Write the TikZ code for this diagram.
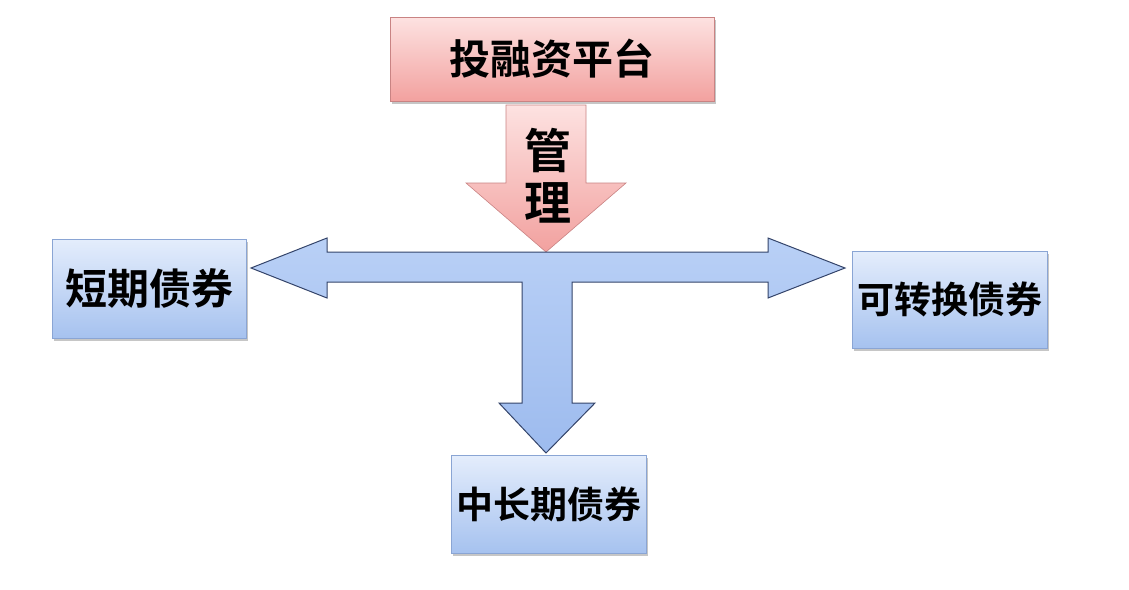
\documentclass[tikz,border=0pt]{standalone}
\usepackage{fontspec}
\newfontfamily\cjk{Noto Sans CJK SC}[BoldFont={Noto Sans CJK SC Bold}]
\usetikzlibrary{shadows}
\definecolor{pinktop}{HTML}{FDE2E1}
\definecolor{pinkbot}{HTML}{F2A19F}
\definecolor{pinkline}{HTML}{C98383}
\definecolor{bluetop}{HTML}{E4EDFC}
\definecolor{bluebot}{HTML}{A6C2EF}
\definecolor{blueline}{HTML}{8AA5D4}
\definecolor{arrowtop}{HTML}{B9D0F6}
\definecolor{arrowbot}{HTML}{9DBBEE}
\definecolor{arrowline}{HTML}{34446A}
\tikzset{
  bond/.style={draw=blueline, line width=0.8pt, top color=bluetop, bottom color=bluebot,
    minimum width=195pt, minimum height=98pt, inner sep=0pt,
    font=\cjk\bfseries\fontsize{37}{39}\selectfont,
    drop shadow={shadow xshift=1.5pt, shadow yshift=-2.5pt, opacity=.45}},
  platform/.style={draw=pinkline, line width=0.8pt, top color=pinktop, bottom color=pinkbot,
    minimum width=324pt, minimum height=84pt, inner sep=0pt,
    font=\cjk\bfseries\fontsize{41}{43}\selectfont,
    drop shadow={shadow xshift=1.5pt, shadow yshift=-2.5pt, opacity=.45}},
  word/.style={font=\cjk\bfseries\fontsize{47}{49}\selectfont, inner sep=0pt}
}
\begin{document}
\begin{tikzpicture}[x=1pt,y=-1pt]
    \useasboundingbox (0,0) rectangle (1129,589);
    \def\downarrow{(506,105) -- (586,105) -- (586,183) -- (626,183) -- (546,252) -- (466,183) -- (506,183) -- cycle}
    \def\splitarrow{(251,268) -- (327,238) -- (327,252) -- (768,252) -- (768,238) -- (845,268) -- (768,298)
      -- (768,282) -- (572,282) -- (572,403) -- (595,403) -- (546,453) -- (499,403) -- (522,403)
      -- (522,282) -- (327,282) -- (327,298) -- cycle}

    % boxes
    \node[platform] (platform) at (552,59) {投融资平台};
    \node[bond, minimum height=99pt, minimum width=194pt, font=\cjk\bfseries\fontsize{42}{44}\selectfont] (short) at (149,288.5) {短期债券};
    \node[bond, minimum height=97pt] (convert) at (949.5,299.5) {可转换债券};
    \node[bond] (long) at (548.5,504) {中长期债券};

    % arrows
    \shade[top color=pinktop, bottom color=pinkbot] \downarrow;
    \draw[pinkline, line width=0.6pt, line join=miter] \downarrow;
    \node[word] (guan) at (548,150) {管};
    \node[word] (li) at (548,203) {理};

    \shade[top color=arrowtop, bottom color=arrowbot] \splitarrow;
    \draw[arrowline, line width=1pt, line join=miter] \splitarrow;
\end{tikzpicture}
\end{document}
